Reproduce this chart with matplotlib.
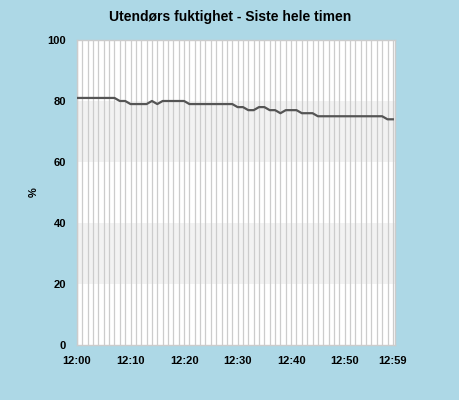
import matplotlib
matplotlib.use('Agg')
import matplotlib.pyplot as plt

plt.rcParams['font.family'] = ['Liberation Sans', 'DejaVu Sans']

title = 'Utendørs fuktighet - Siste hele timen'
minutes = list(range(60))
humidity = ([81] * 8 + [80] * 2 + [79] * 4 + [80] + [79] + [80] * 5 + [79] * 9
            + [78] * 2 + [77] * 2 + [78] * 2 + [77] * 2 + [76] + [77] * 3
            + [76] * 3 + [75] * 13 + [74] * 2)
tick_minutes = [0, 10, 20, 30, 40, 50, 59]
tick_labels = ['12:00', '12:10', '12:20', '12:30', '12:40', '12:50', '12:59']
y_ticks = [0, 20, 40, 60, 80, 100]
bands = [(20, 40), (60, 80)]

bg = '#add8e6'
fig = plt.figure(figsize=(4.6, 4.0), dpi=100, facecolor=bg)
ax = fig.add_axes([0.1674, 0.1375, 0.6913, 0.7625])
ax.set_facecolor('white')

for lo, hi in bands:
    ax.axhspan(lo, hi, color='#f2f2f2', zorder=0, lw=0)
for m in minutes:
    ax.axvline(m, color='#cccccc', lw=0.9, zorder=1)

ax.plot(minutes, humidity, color='#555555', lw=1.6, zorder=3)

ax.set_xlim(0, 59.4)
ax.set_ylim(0, 100)
ax.set_xticks(tick_minutes)
ax.set_xticklabels(tick_labels, fontsize=8, fontweight='bold')
ax.set_yticks(y_ticks)
ax.set_yticklabels([str(v) for v in y_ticks], fontsize=8, fontweight='bold')
ax.tick_params(length=0, pad=8)
ax.set_ylabel('%', fontsize=8, fontweight='bold', labelpad=6)
for s in ax.spines.values():
    s.set_color('#cccccc')
    s.set_linewidth(1)

fig.suptitle(title, fontsize=10, fontweight='bold', y=0.975)
fig.savefig('out.png', dpi=100, facecolor=bg)
